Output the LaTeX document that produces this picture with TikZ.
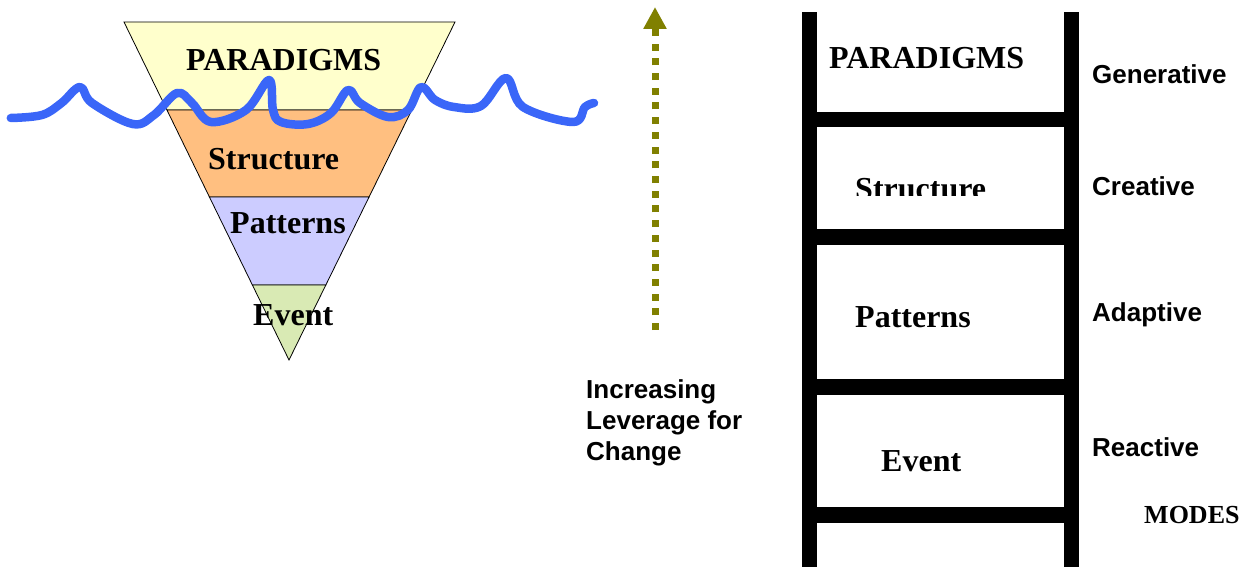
\documentclass[tikz,border=0pt]{standalone}
\usepackage{fontspec}
\setmainfont{Liberation Serif}
\setsansfont{Liberation Sans}
\usetikzlibrary{arrows.meta,calc}
\definecolor{bandyellow}{RGB}{255,255,204}
\definecolor{bandorange}{RGB}{255,191,128}
\definecolor{bandlav}{RGB}{204,204,255}
\definecolor{bandgreen}{RGB}{217,234,180}
\definecolor{waveblue}{RGB}{58,102,248}
\definecolor{arrolive}{RGB}{128,128,0}
\begin{document}
\begin{tikzpicture}[x=1pt,y=-1pt,
  serifbig/.style={font=\fontsize{32}{38}\selectfont\bfseries, inner sep=0pt, anchor=base west},
  serifmid/.style={font=\fontsize{26}{31}\selectfont\bfseries, inner sep=0pt, anchor=base west},
  sanslab/.style={font=\fontsize{26}{31}\selectfont\sffamily\bfseries, inner sep=0pt, anchor=base west},
  band/.style={draw=black, line width=0.8pt},
  rail/.style={fill=black},
  wave/.style={draw=waveblue, line width=8.5pt, line cap=round, line join=round}]
\useasboundingbox (0,0) rectangle (1253,567);
% triangle
\coordinate (tl) at (124,22);
\coordinate (tr) at (455,22);
\coordinate (ap) at (289,360);
\coordinate (l1) at ($(tl)!0.2604!(ap)$);
\coordinate (r1) at ($(tr)!0.2604!(ap)$);
\coordinate (l2) at ($(tl)!0.5178!(ap)$);
\coordinate (r2) at ($(tr)!0.5178!(ap)$);
\coordinate (l3) at ($(tl)!0.778!(ap)$);
\coordinate (r3) at ($(tr)!0.778!(ap)$);
\filldraw[band, fill=bandyellow] (tl) -- (tr) -- (r1) -- (l1) -- cycle;
\filldraw[band, fill=bandorange] (l1) -- (r1) -- (r2) -- (l2) -- cycle;
\filldraw[band, fill=bandlav] (l2) -- (r2) -- (r3) -- (l3) -- cycle;
\filldraw[band, fill=bandgreen] (l3) -- (r3) -- (ap) -- cycle;
\node[serifbig] (tparad) at (186,71) {PARADIGMS};
\node[serifbig] (tstruct) at (208,170) {Structure};
\node[serifbig] (tpatt) at (230,233) {Patterns};
\node[serifbig] (tevent) at (253,325) {Event};
% wave
\draw[wave] plot[smooth, tension=0.6] coordinates {(10.8,118) (42,115) (61.5,103) (80,87) (92,103) (132.7,124) (154,115) (177,93) (192,103) (211,122) (246,110) (269,80) (273,110) (281,122) (308,124) (331,113) (348,90) (360,103) (388,117) (408,110) (421,87) (435,100) (454,107) (481,106) (506,78) (523,107) (573,122) (585,107) (594,103)};
% arrow
\coordinate (arrS) at (655,330);
\coordinate (arrE) at (655,7);
\draw[arrolive, line width=7pt, dash pattern=on 7pt off 7.7pt, -{Triangle[width=22pt,length=22pt]}] (arrS) -- (arrE);
\node[sanslab, align=left] (lever) at (586,460) {Increasing\\Leverage for\\Change};
% ladder
\fill[rail] (802,12) rectangle (817,567);
\fill[rail] (1064,12) rectangle (1079,567);
\fill[rail] (817,111.6) rectangle (1064,126.8);
\fill[rail] (817,229.3) rectangle (1064,245.3);
\fill[rail] (817,378.6) rectangle (1064,395);
\fill[rail] (817,506.5) rectangle (1064,522.8);
\node[serifbig] (lparad) at (829,69) {PARADIGMS};
\begin{scope}
\clip (817,127) rectangle (1064,195.5);
\node[serifbig] (lstruct) at (855,199) {Structure};
\end{scope}
\node[serifbig] (lpatt) at (855,327) {Patterns};
\node[serifbig] (levent) at (881,471) {Event};
\node[sanslab] (mgen) at (1092,84) {Generative};
\node[sanslab] (mcre) at (1092,195.5) {Creative};
\node[sanslab] (mada) at (1092,321) {Adaptive};
\node[sanslab] (mrea) at (1092,456.5) {Reactive};
\node[serifmid] (modes) at (1144,523.5) {MODES};
\end{tikzpicture}
\end{document}
